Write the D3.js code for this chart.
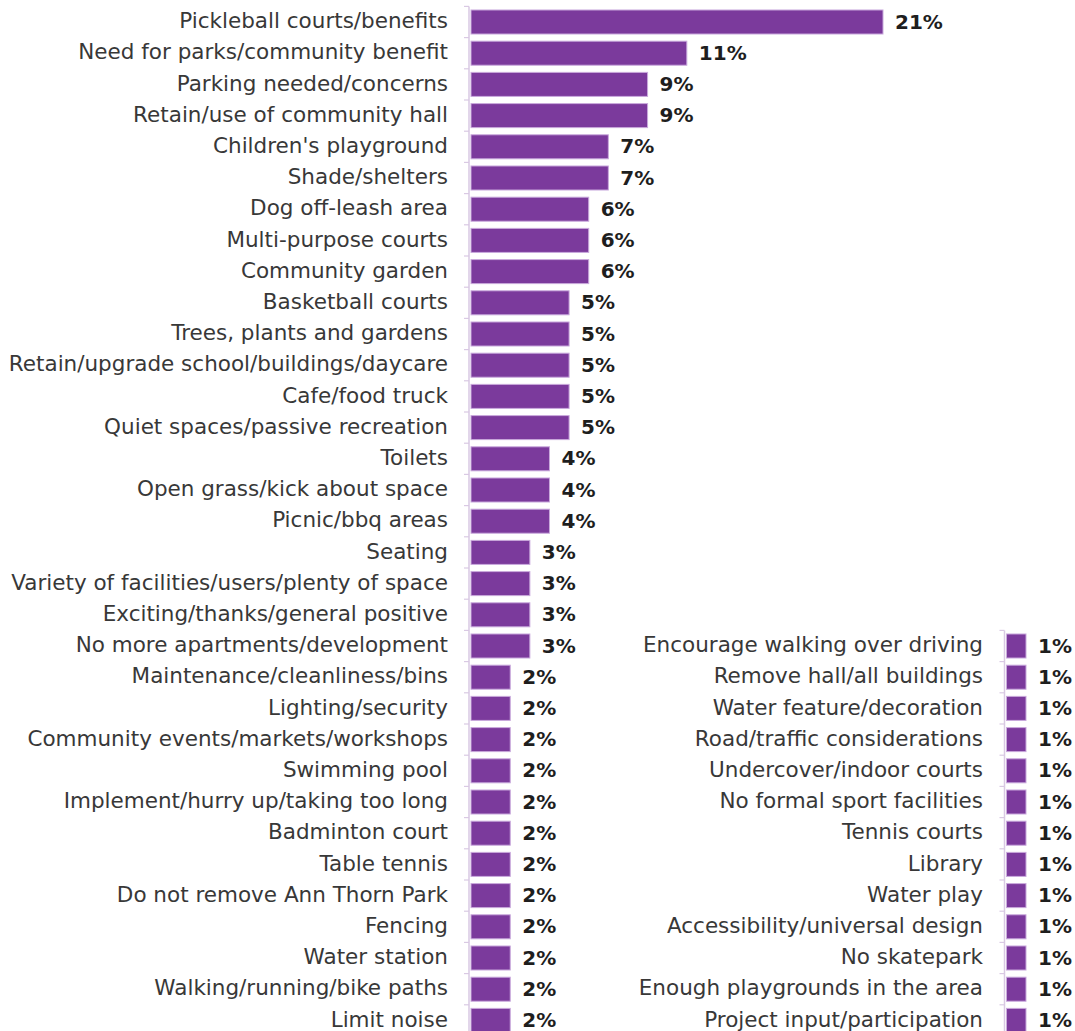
<!DOCTYPE html>
<html>
<head>
<meta charset="utf-8">
<script src="https://cdn.jsdelivr.net/npm/d3@7/dist/d3.min.js"></script>
<style>
  html, body { margin: 0; padding: 0; background: #ffffff; }
  svg { display: block; }
  .cat { font-family: "DejaVu Sans", sans-serif; font-size: 21.5px; fill: #383838; }
  .val { font-family: "DejaVu Sans", sans-serif; font-size: 20px; font-weight: 700; fill: #1e1e1e; }
</style>
</head>
<body>
<svg id="chart" width="1075" height="1031"></svg>
<script>
// Main column of responses (share of comments, %)
const leftCategories = [
  "Pickleball courts/benefits",
  "Need for parks/community benefit",
  "Parking needed/concerns",
  "Retain/use of community hall",
  "Children's playground",
  "Shade/shelters",
  "Dog off-leash area",
  "Multi-purpose courts",
  "Community garden",
  "Basketball courts",
  "Trees, plants and gardens",
  "Retain/upgrade school/buildings/daycare",
  "Cafe/food truck",
  "Quiet spaces/passive recreation",
  "Toilets",
  "Open grass/kick about space",
  "Picnic/bbq areas",
  "Seating",
  "Variety of facilities/users/plenty of space",
  "Exciting/thanks/general positive",
  "No more apartments/development",
  "Maintenance/cleanliness/bins",
  "Lighting/security",
  "Community events/markets/workshops",
  "Swimming pool",
  "Implement/hurry up/taking too long",
  "Badminton court",
  "Table tennis",
  "Do not remove Ann Thorn Park",
  "Fencing",
  "Water station",
  "Walking/running/bike paths",
  "Limit noise"
];
const leftValues = [21, 11, 9, 9, 7, 7, 6, 6, 6, 5, 5, 5, 5, 5, 4, 4, 4, 3, 3, 3, 3,
                    2, 2, 2, 2, 2, 2, 2, 2, 2, 2, 2, 2];

// Second column: responses at 1%
const rightCategories = [
  "Encourage walking over driving",
  "Remove hall/all buildings",
  "Water feature/decoration",
  "Road/traffic considerations",
  "Undercover/indoor courts",
  "No formal sport facilities",
  "Tennis courts",
  "Library",
  "Water play",
  "Accessibility/universal design",
  "No skatepark",
  "Enough playgrounds in the area",
  "Project input/participation"
];
const rightValues = [1, 1, 1, 1, 1, 1, 1, 1, 1, 1, 1, 1, 1];

const barColor = "#7b3a9c";
const barEdge = "#c9a9dc";
const axisColor = "#d9c9e3";

const svg = d3.select("#chart");

const rowStep = 31.2;
const chartTop = 6.4;
const nLeft = leftCategories.length;

const yLeft = d3.scaleBand()
  .domain(leftCategories)
  .range([chartTop, chartTop + nLeft * rowStep])
  .paddingInner(0.23)
  .paddingOuter(0.115);

// the second column lines up with the bottom rows of the first
const rightStart = chartTop + (nLeft - rightCategories.length) * rowStep;
const yRight = d3.scaleBand()
  .domain(rightCategories)
  .range([rightStart, rightStart + rightCategories.length * rowStep])
  .paddingInner(0.23)
  .paddingOuter(0.115);

const xLeft = d3.scaleLinear().domain([0, 21]).range([471, 883]);
const xRight = d3.scaleLinear().domain([0, 1]).range([1006.5, 1026]);

function drawPanel(cats, vals, x, y, labelRight) {
  const data = cats.map((c, i) => ({ c, v: vals[i] }));
  const g = svg.append("g");

  // thin category axis with small ticks between rows
  const axisX = x(0) - 2;
  const [r0, r1] = y.range();
  g.append("line")
    .attr("x1", axisX).attr("x2", axisX)
    .attr("y1", r0).attr("y2", Math.min(r1, 1031))
    .attr("stroke", axisColor).attr("stroke-width", 1.5);
  g.selectAll("line.tick")
    .data(cats)
    .join("line")
    .attr("class", "tick")
    .attr("x1", axisX - 5).attr("x2", axisX)
    .attr("y1", d => y(d) - (y.step() - y.bandwidth()) / 2)
    .attr("y2", d => y(d) - (y.step() - y.bandwidth()) / 2)
    .attr("stroke", axisColor).attr("stroke-width", 1.2);

  g.selectAll("rect.bar")
    .data(data)
    .join("rect")
    .attr("class", "bar")
    .attr("x", x(0))
    .attr("y", d => y(d.c))
    .attr("width", d => x(d.v) - x(0))
    .attr("height", y.bandwidth())
    .attr("fill", barColor)
    .attr("stroke", barEdge)
    .attr("stroke-width", 1);

  g.selectAll("text.cat")
    .data(data)
    .join("text")
    .attr("class", "cat")
    .attr("x", labelRight)
    .attr("y", d => y(d.c) + y.bandwidth() / 2)
    .attr("dy", "0.29em")
    .attr("text-anchor", "end")
    .text(d => d.c);

  g.selectAll("text.val")
    .data(data)
    .join("text")
    .attr("class", "val")
    .attr("x", d => x(d.v) + 12)
    .attr("y", d => y(d.c) + y.bandwidth() / 2)
    .attr("dy", "0.33em")
    .text(d => d.v + "%");
}

drawPanel(leftCategories, leftValues, xLeft, yLeft, 448);
drawPanel(rightCategories, rightValues, xRight, yRight, 983);
</script>
</body>
</html>
